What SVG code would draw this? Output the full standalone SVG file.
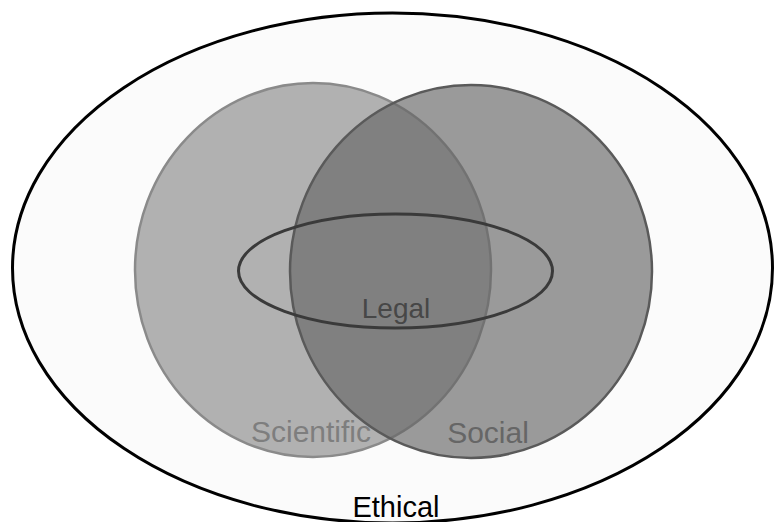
<svg xmlns="http://www.w3.org/2000/svg" width="774" height="522" viewBox="0 0 774 522">
  <style>
    .lbl { font-family: "Liberation Sans", Arial, Helvetica, sans-serif; text-anchor: middle; }
  </style>
  <rect x="0" y="0" width="774" height="522" fill="#ffffff"/>
  <g id="ethical">
    <ellipse cx="392.5" cy="268" rx="380" ry="255" fill="#fbfbfb" stroke="#000000" stroke-width="3"/>
  </g>
  <g id="scientific">
    <ellipse cx="313" cy="270" rx="178" ry="187" fill="#b1b1b1" stroke="#8a8a8a" stroke-width="2.5"/>
  </g>
  <g id="social">
    <ellipse cx="471" cy="271.5" rx="181" ry="186.5" fill="#666666" fill-opacity="0.654" stroke="#5a5a5a" stroke-width="2.5"/>
  </g>
  <g id="legal">
    <ellipse cx="395.5" cy="271" rx="157" ry="57" fill="none" stroke="#3a3a3a" stroke-width="3"/>
    <text class="lbl" x="396" y="318" font-size="28" fill="#474747">Legal</text>
  </g>
  <g id="labels">
    <text class="lbl" x="311" y="442" font-size="30" fill="#7e7e7e">Scientific</text>
    <text class="lbl" x="488" y="443" font-size="30" fill="#666666">Social</text>
    <text class="lbl" x="396" y="517" font-size="29" fill="#000000">Ethical</text>
  </g>
</svg>
